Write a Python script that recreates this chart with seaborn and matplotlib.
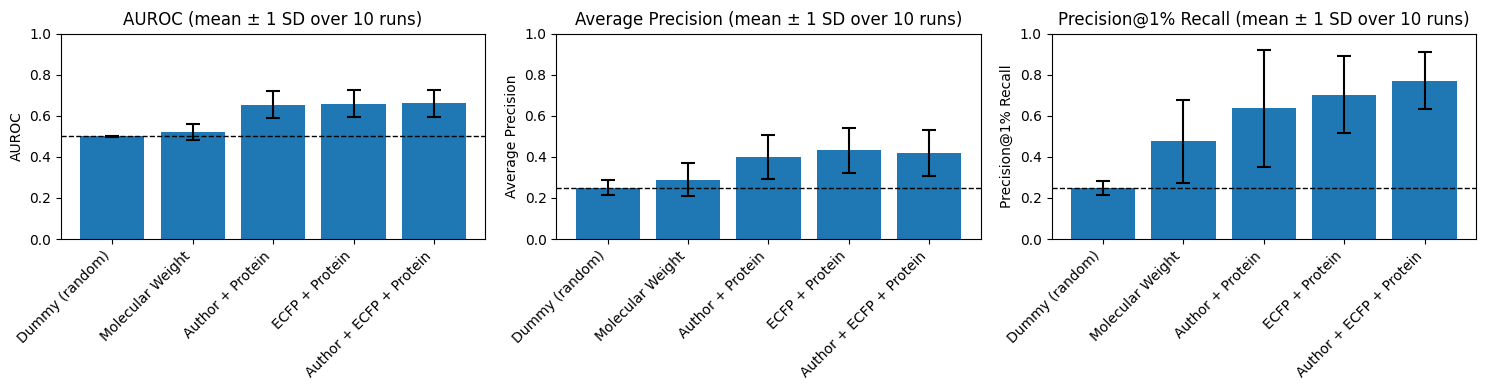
import matplotlib
matplotlib.use("Agg")
import matplotlib.pyplot as plt
import seaborn as sns
import numpy as np

models = ['Dummy (random)', 'Molecular Weight', 'Author + Protein',
          'ECFP + Protein', 'Author + ECFP + Protein']

auroc_mean = [0.500, 0.520, 0.654, 0.658, 0.660]
auroc_sd = [0.003, 0.040, 0.065, 0.066, 0.065]

ap_mean = [0.250, 0.288, 0.399, 0.432, 0.418]
ap_sd = [0.037, 0.080, 0.107, 0.110, 0.111]

p1_mean = [0.248, 0.477, 0.636, 0.703, 0.771]
p1_sd = [0.036, 0.202, 0.286, 0.188, 0.140]

baselines = [0.5, 0.25, 0.25]
metrics = ['AUROC', 'Average Precision', 'Precision@1% Recall']

fig, axes = plt.subplots(1, 3, figsize=(14.85, 3.9), dpi=100)

panels = [(auroc_mean, auroc_sd), (ap_mean, ap_sd), (p1_mean, p1_sd)]
for ax, (mean, sd), name, base in zip(axes, panels, metrics, baselines):
    sns.barplot(x=models, y=mean, color='#1f77b4', saturation=1,
                width=0.8, errorbar=None, ax=ax)
    ax.errorbar(np.arange(len(models)), mean, yerr=sd, fmt='none',
                ecolor='black', capsize=5, elinewidth=1.5, capthick=1.5)
    ax.axhline(base, color='black', linestyle='--', linewidth=1)
    ax.set_ylim(0, 1)
    ax.set_ylabel(name)
    ax.set_title(f'{name} (mean ± 1 SD over 10 runs)')
    ax.set_xticks(np.arange(len(models)))
    ax.set_xticklabels(models, rotation=45, ha='right')

plt.subplots_adjust(left=0.041, right=0.994, bottom=0.387, top=0.914, wspace=0.167)
plt.savefig('out.png', dpi=100)
